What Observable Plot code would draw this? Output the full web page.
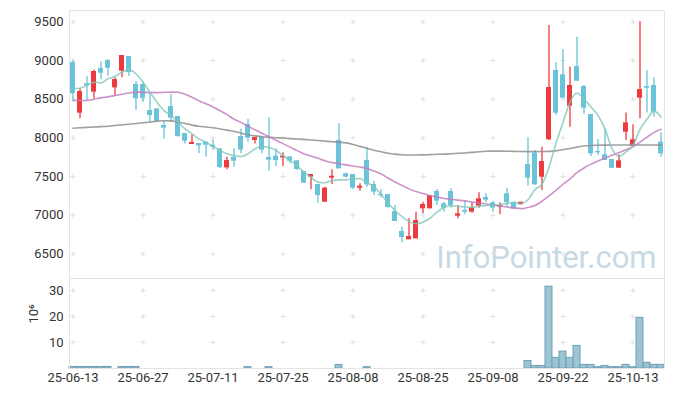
<!DOCTYPE html>
<html><head><meta charset="utf-8">
<script src="https://cdn.jsdelivr.net/npm/d3@7"></script>
<script src="https://cdn.jsdelivr.net/npm/@observablehq/plot@0.6"></script>
<style>
body{margin:0;background:#fff;}
#chart{width:673px;height:396px;position:relative;overflow:hidden;}
#chart svg{display:block;}
</style></head><body><div id="chart"></div>
<script>
const dates = ["25-06-13","25-06-16","25-06-17","25-06-18","25-06-19","25-06-20","25-06-23","25-06-24","25-06-25","25-06-26",
"25-06-27","25-06-30","25-07-01","25-07-02","25-07-03","25-07-04","25-07-07","25-07-08","25-07-09","25-07-10",
"25-07-11","25-07-14","25-07-15","25-07-16","25-07-17","25-07-18","25-07-21","25-07-22","25-07-23","25-07-24",
"25-07-25","25-07-28","25-07-29","25-07-30","25-07-31","25-08-01","25-08-04","25-08-05","25-08-06","25-08-07",
"25-08-08","25-08-11","25-08-12","25-08-13","25-08-14","25-08-18","25-08-19","25-08-20","25-08-21","25-08-22",
"25-08-25","25-08-26","25-08-27","25-08-28","25-08-29","25-09-01","25-09-02","25-09-03","25-09-04","25-09-05",
"25-09-08","25-09-09","25-09-10","25-09-11","25-09-12","25-09-15","25-09-16","25-09-17","25-09-18","25-09-19",
"25-09-22","25-09-23","25-09-24","25-09-25","25-09-26","25-09-29","25-09-30","25-10-01","25-10-02","25-10-10",
"25-10-13","25-10-14","25-10-15","25-10-16","25-10-17"];

const open  = [8974,8319,8700,8591,8897,9000,8647,8862,9052,8690, 8690,8353,8375,8160,8405,8276,8056,7914,7927,7944,
  7905,7858,7612,7750,8017,8172,7966,8004,7746,7763, 7741,7754,7703,7565,7492,7397,7168,7479,7966,7535,
  7526,7349,7707,7397,7267,7267,7047,6789,6681,6694, 7082,7082,7306,7147,7306,6987,7061,7039,7117,7229,
  7160,7104,7276,7168,7134,7655,7802,7491,7974,8871, 8815,8410,8922,8664,8302,7823,7780,7720,7608,8073,
  7892,8513,8664,8677,7944];
const high  = [9000,8634,8795,8879,8983,9013,8776,9065,9052,8730, 8720,8591,8375,8224,8560,8276,8056,8039,7927,7944,
  7974,7858,7750,7858,8116,8237,8004,8022,8259,7858, 7806,7754,7703,7565,7526,7397,7362,7586,8181,7545,
  7526,7405,7879,7440,7328,7267,7125,6845,6953,7039, 7168,7254,7332,7168,7341,7125,7190,7160,7289,7276,
  7181,7160,7349,7168,7168,8000,7836,7879,9453,8970, 9138,8914,9302,8677,8302,7979,8116,7720,7780,8323,
  8168,9504,8871,8776,8065];
const low   = [8483,8246,8483,8504,8750,8797,8547,8776,8793,8353, 8461,8203,8203,7983,8203,8009,7922,7914,7793,7750,
  7836,7599,7586,7621,7793,7944,7922,7793,7569,7629, 7629,7664,7578,7414,7328,7155,7168,7397,7599,7480,
  7332,7310,7362,7254,7224,7091,6918,6642,6681,6694, 7017,7082,7125,7039,7091,6953,7004,7026,7091,7160,
  7039,7004,7104,7074,7134,7375,7384,7319,7966,8289, 8513,8138,8733,8306,7759,7772,7707,7599,7608,7966,
  7879,8246,8323,8267,7750];
const close = [8569,8599,8670,8858,8836,8901,8754,9065,8845,8504, 8513,8289,8211,8125,8254,8017,7957,7940,7897,7905,
  7879,7616,7707,7698,7841,7996,8004,7841,7711,7707, 7763,7698,7591,7414,7526,7254,7349,7504,7599,7492,
  7349,7375,7392,7298,7250,7099,6918,6711,6724,6931, 7138,7254,7181,7091,7125,7017,7039,7095,7211,7194,
  7091,7125,7160,7082,7168,7479,7392,7694,8651,8319, 8513,8677,8733,8384,7793,7806,7707,7608,7703,8194,
  7974,8625,8642,8332,7793];
// volume, millions
const volume = [0.6,0.6,0.6,0.6,0.6,0.6,0,0.6,0.6,0.6, 0,0,0,0,0,0,0,0,0,0,
  0,0,0,0,0,0.5,0,0,0.5,0, 0,0,0,0,0,0,0,0,1.4,0,
  0,0,0.5,0,0,0,0,0,0,0, 0,0,0,0,0,0,0,0,0,0,
  0,0,0,0,0,2.9,1.0,1.0,31.5,4.1, 6.5,4.1,8.7,1.4,1.4,0.5,1.0,0.5,0.5,1.4,
  0.5,19.5,2.2,1.4,1.4];
const ma5 = [8634,8642,8677,8720,8711,8763,8793,8849,8879,8828, 8720,8591,8461,8353,8289,8203,8116,8052,7987,7944,
  7888,7836,7793,7772,7759,7793,7858,7888,7879,7836, 7772,7707,7642,7556,7491,7427,7420,7448,7457,7457,
  7470,7474,7420,7370,7270,7160,7060,6980,6920,6890, 6910,6960,7040,7100,7120,7115,7105,7100,7117,7125,
  7130,7138,7150,7160,7150,7200,7330,7400,7620,7930, 8200,8460,8580,8500,8400,8289,8116,7860,7760,7820,
  7900,8110,8240,8345,8270];
const ma20 = [8483,8483,8483,8500,8517,8530,8547,8565,8580,8591, 8590,8585,8585,8588,8591,8590,8565,8525,8480,8440,
  8400,8350,8300,8240,8200,8150,8105,8060,8015,7970, 7925,7880,7835,7795,7765,7735,7705,7680,7665,7650,
  7635,7622,7605,7570,7535,7480,7430,7385,7340,7305, 7280,7255,7235,7215,7205,7195,7185,7170,7158,7145,
  7132,7118,7105,7092,7085,7100,7125,7180,7250,7320, 7400,7470,7550,7610,7660,7700,7740,7775,7810,7845,
  7885,7945,8010,8070,8110];
const ma60 = [8125,8130,8135,8140,8145,8150,8160,8168,8176,8185, 8195,8205,8215,8222,8220,8205,8185,8165,8150,8140,
  8130,8115,8100,8085,8060,8040,8025,8015,8008,8002, 7998,7990,7985,7980,7972,7965,7958,7950,7945,7935,
  7915,7890,7865,7840,7820,7800,7790,7782,7778,7778, 7780,7783,7787,7790,7795,7800,7805,7812,7820,7826,
  7828,7828,7827,7825,7823,7822,7822,7823,7825,7832, 7845,7862,7880,7895,7902,7905,7906,7907,7908,7908,
  7908,7908,7908,7908,7906];

const xTicks = ["25-06-13","25-06-27","25-07-11","25-07-25","25-08-08","25-08-25","25-09-08","25-09-22","25-10-13"];
const priceTicks = [6500,7000,7500,8000,8500,9000,9500];
const volTicks = [10,20,30];

const RED = "#ec3a3e", BLUE = "#6bc3da";
const rows = dates.map((d, i) => ({date: d, open: open[i], high: high[i], low: low[i], close: close[i],
  volume: volume[i], ma5: ma5[i], ma20: ma20[i], ma60: ma60[i], up: close[i] >= open[i]}));
const gridPts = (ys) => xTicks.flatMap(x => ys.map(y => ({x, y})));

const W = 673, ML = 69, MR = 9;
const font = "Roboto, 'DejaVu Sans', sans-serif";
const style = {fontFamily: font, fontSize: "13px", color: "#333", background: "#fff", overflow: "visible"};

const price = Plot.plot({
  width: W, height: 278, marginLeft: ML, marginRight: MR, marginTop: 10, marginBottom: 0,
  style,
  x: {type: "band", domain: dates, paddingInner: 0.3, paddingOuter: 0.15, axis: null},
  y: {domain: [6181, 9647], ticks: priceTicks, tickSize: 0, tickPadding: 6, label: null, tickFormat: d => String(d)},
  marks: [
    Plot.text(["InfoPointer.com"], {frameAnchor: "bottom-right", dx: -8, dy: -11, textAnchor: "end", lineAnchor: "bottom",
      fontSize: 31, fill: "#c7d9e4", fontFamily: font}),
    Plot.dot(gridPts(priceTicks), {x: "x", y: "y", symbol: "plus", r: 1.8, stroke: "#e0e0e0", strokeWidth: 1}),
    Plot.ruleX(rows, {x: "date", y1: "low", y2: "high", stroke: d => d.up ? RED : BLUE, strokeWidth: 1.3}),
    Plot.barY(rows, {x: "date", y1: "open", y2: "close", fill: d => d.up ? RED : BLUE}),
    Plot.line(rows, {x: "date", y: "ma60", stroke: "#8f8f8f", strokeWidth: 1.6, strokeOpacity: 0.85, curve: "monotone-x"}),
    Plot.line(rows, {x: "date", y: "ma20", stroke: "#c47fc0", strokeWidth: 1.6, strokeOpacity: 0.85, curve: "monotone-x"}),
    Plot.line(rows, {x: "date", y: "ma5", stroke: "#7fc8b6", strokeWidth: 1.6, strokeOpacity: 0.8, curve: "monotone-x"}),
    Plot.frame({stroke: "#e3e3e3"})
  ]
});

const vol = Plot.plot({
  width: W, height: 118, marginLeft: ML, marginRight: MR, marginTop: 0, marginBottom: 28,
  style,
  x: {type: "band", domain: dates, padding: 0, ticks: xTicks, tickSize: 0, tickPadding: 4, label: null},
  y: {domain: [0, 34.65], ticks: volTicks, tickSize: 0, tickPadding: 6, label: null},
  marks: [
    Plot.dot(gridPts(volTicks), {x: "x", y: "y", symbol: "plus", r: 1.8, stroke: "#e0e0e0", strokeWidth: 1}),
    Plot.barY(rows, {x: "date", y: "volume", fill: "#9dc4d3", stroke: "#6f9fb5", strokeWidth: 1}),
    Plot.frame({stroke: "#e3e3e3"}),
    Plot.text(["10⁶"], {frameAnchor: "left", dx: -36, dy: 0, rotate: -90, fontSize: 13, fill: "#333"})
  ]
});

document.getElementById("chart").append(price, vol);
</script></body></html>
